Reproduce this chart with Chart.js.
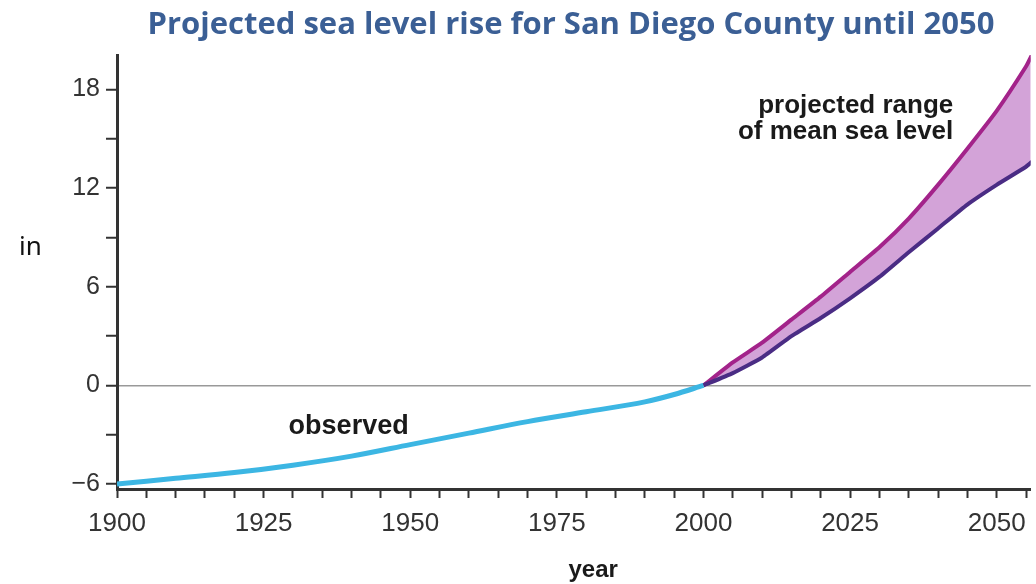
<!DOCTYPE html>
<html>
<head>
<meta charset="utf-8">
<script src="https://cdn.jsdelivr.net/npm/chart.js"></script>
<style>
  html, body { margin: 0; padding: 0; background: #fff; }
  #wrap { width: 1036px; height: 584px; }
</style>
</head>
<body>
<div id="wrap"><canvas id="chart" width="1036" height="584"></canvas></div>
<script>
// observed record (inches, relative to 2000)
const observedYears = [1900, 1910, 1920, 1930, 1940, 1950, 1960, 1970, 1980, 1990, 1995, 2000]
const observedInches = [-6.0, -5.65, -5.3, -4.85, -4.3, -3.6, -2.9, -2.2, -1.6, -1.0, -0.55, 0]

// projected range
const projYears = [2000, 2005, 2010, 2015, 2020, 2025, 2030, 2035, 2040, 2045, 2050, 2055, 2056]
const projLow = [0, 0.75, 1.7, 3.0, 4.1, 5.3, 6.6, 8.1, 9.55, 11.0, 12.2, 13.3, 13.6]
const projHigh = [0, 1.4, 2.6, 4.0, 5.4, 6.9, 8.4, 10.15, 12.2, 14.4, 16.7, 19.4, 20.1]

const xTickLabels = [1900, 1925, 1950, 1975, 2000, 2025, 2050]
const yTickLabels = [-6, 0, 6, 12, 18]

const toPoints = (xs, ys) => xs.map((x, i) => ({ x: x, y: ys[i] }))

const fmtY = v => (v < 0 ? '\u2212' + Math.abs(v) : String(v))

const textPlugin = {
  id: 'texts',
  afterDraw(chart) {
    const ctx = chart.ctx
    const x = chart.scales.x
    const y = chart.scales.y
    ctx.save()
    ctx.fillStyle = '#3b5f95'
    ctx.font = 'bold 31px "Open Sans"'
    ctx.textAlign = 'center'
    ctx.textBaseline = 'alphabetic'
    ctx.fillText('Projected sea level rise for San Diego County until 2050', 571, 34)

    ctx.fillStyle = '#111'
    ctx.font = '26px "Noto Sans"'
    ctx.textAlign = 'left'
    ctx.fillText('in', 19, 255)

    ctx.fillStyle = '#1a1a1a'
    ctx.font = 'bold 24px "Liberation Sans"'
    ctx.textAlign = 'center'
    ctx.fillText('year', x.getPixelForValue(1981.2), 577)

    ctx.font = 'bold 27px "Liberation Sans"'
    ctx.fillText('observed', x.getPixelForValue(1939.5), y.getPixelForValue(-2.95))

    ctx.textAlign = 'right'
    ctx.font = 'bold 26px "Liberation Sans"'
    ctx.fillText('projected range', x.getPixelForValue(2042.6), y.getPixelForValue(16.55))
    ctx.fillText('of mean sea level', x.getPixelForValue(2042.6), y.getPixelForValue(15.0))
    ctx.restore()
  }
}

const everyStep = (scale, step) => {
  const ticks = []
  for (let v = Math.ceil(scale.min / step) * step; v <= scale.max + 1e-9; v += step) {
    ticks.push({ value: Math.round(v * 100) / 100 })
  }
  scale.ticks = ticks
}

new Chart(document.getElementById('chart'), {
  type: 'line',
  data: {
    datasets: [
      {
        label: 'observed',
        data: toPoints(observedYears, observedInches),
        borderColor: '#3cb6e3',
        borderWidth: 5,
        pointRadius: 0,
        cubicInterpolationMode: 'monotone',
        fill: false
      },
      {
        label: 'low',
        data: toPoints(projYears, projLow),
        borderColor: '#4a2c84',
        borderWidth: 4,
        pointRadius: 0,
        tension: 0.15,
        fill: false
      },
      {
        label: 'high',
        data: toPoints(projYears, projHigh),
        borderColor: '#a3238a',
        borderWidth: 4,
        pointRadius: 0,
        tension: 0.15,
        backgroundColor: '#d3a3d8',
        fill: '-1'
      }
    ]
  },
  options: {
    responsive: false,
    animation: false,
    layout: { padding: { top: 55, left: 0, right: 0, bottom: 0 } },
    plugins: {
      legend: { display: false },
      tooltip: { enabled: false },
      title: { display: false }
    },
    scales: {
      x: {
        type: 'linear',
        min: 1900,
        max: 2055.8,
        afterBuildTicks: s => everyStep(s, 5),
        afterFit: s => { s.height = 95 },
        border: { display: true, color: '#333', width: 3 },
        grid: { drawOnChartArea: false, color: '#333', tickColor: '#333', tickLength: 9, tickWidth: 2 },
        ticks: {
          autoSkip: false,
          maxRotation: 0,
          padding: 10,
          color: '#333',
          font: { family: '"Liberation Sans"', size: 26 },
          callback: v => (xTickLabels.includes(v) ? String(v) : '')
        }
      },
      y: {
        type: 'linear',
        min: -6.3,
        max: 20.1,
        afterBuildTicks: s => everyStep(s, 3),
        afterFit: s => { s.width = 117 },
        border: { display: true, color: '#333', width: 3 },
        grid: {
          drawOnChartArea: true,
          color: c => (c.tick && c.tick.value === 0 ? '#999' : 'rgba(0,0,0,0)'),
          lineWidth: 1.5,
          tickColor: '#333',
          tickLength: 11,
          tickWidth: 2
        },
        ticks: {
          autoSkip: false,
          padding: 6,
          color: '#333',
          font: { family: '"Liberation Sans"', size: 25 },
          callback: v => (yTickLabels.includes(v) ? fmtY(v) : '')
        }
      }
    }
  },
  plugins: [textPlugin]
})
</script>
</body>
</html>
